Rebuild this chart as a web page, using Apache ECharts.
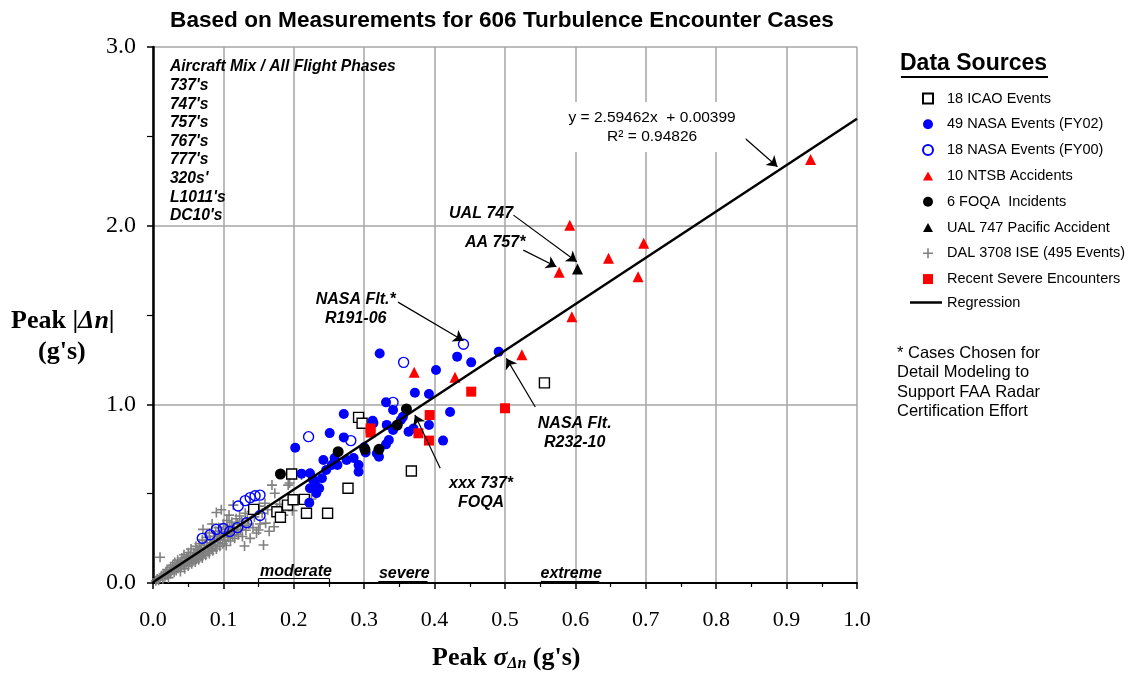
<!DOCTYPE html>
<html><head><meta charset="utf-8">
<script src="https://cdn.jsdelivr.net/npm/echarts@6/dist/echarts.min.js"></script>
<style>html,body{margin:0;padding:0;background:#fff}#c{width:1130px;height:674px}</style>
</head><body><div id="c"></div><script>
// ---------- data ----------
const xTicks = [0,0.1,0.2,0.3,0.4,0.5,0.6,0.7,0.8,0.9,1.0];
const yTicks = [0,1,2,3];
const icao = [[0.197,0.610],[0.143,0.412],[0.176,0.399],[0.181,0.368],[0.191,0.436],[0.199,0.466],[0.215,0.468],[0.218,0.390],[0.248,0.390],[0.277,0.530],[0.292,0.927],[0.297,0.894],[0.367,0.627],[0.556,1.120]];
const nasa02 = [[0.322,1.285],[0.432,1.267],[0.452,1.235],[0.491,1.294],[0.402,1.192],[0.372,1.065],[0.392,1.058],[0.331,1.011],[0.341,0.968],[0.422,0.957],[0.312,0.908],[0.271,0.946],[0.341,0.856],[0.352,0.912],[0.363,0.847],[0.392,0.884],[0.412,0.797],[0.331,0.776],[0.321,0.707],[0.292,0.660],[0.292,0.623],[0.271,0.815],[0.251,0.839],[0.202,0.757],[0.242,0.688],[0.262,0.660],[0.275,0.688],[0.246,0.632],[0.223,0.614],[0.211,0.612],[0.240,0.586],[0.230,0.558],[0.223,0.530],[0.232,0.502],[0.222,0.449],[0.302,0.731],[0.346,0.880],[0.254,0.660],[0.332,0.885],[0.355,0.930],[0.300,0.760],[0.318,0.725],[0.258,0.700],[0.227,0.580],[0.236,0.530],[0.370,0.865],[0.335,0.800],[0.285,0.700],[0.313,0.895]];
const nasa00 = [[0.441,1.336],[0.356,1.235],[0.341,1.011],[0.281,0.797],[0.221,0.819],[0.121,0.431],[0.131,0.461],[0.138,0.478],[0.145,0.488],[0.152,0.492],[0.152,0.378],[0.133,0.337],[0.090,0.300],[0.081,0.270],[0.109,0.288],[0.100,0.305],[0.120,0.310],[0.070,0.250]];
const ntsb = [[0.934,2.371],[0.592,2.003],[0.697,1.901],[0.647,1.817],[0.577,1.739],[0.689,1.714],[0.595,1.490],[0.371,1.179],[0.429,1.151],[0.524,1.278]];
const foqa = [[0.360,0.974],[0.347,0.884],[0.263,0.735],[0.301,0.748],[0.321,0.748],[0.181,0.610]];
const ual = [[0.603,1.757]];
const recent = [[0.452,1.071],[0.500,0.978],[0.393,0.940],[0.309,0.865],[0.309,0.842],[0.377,0.838],[0.392,0.797]];
const dal = [[0.004,0.012],[0.006,0.022],[0.008,0.015],[0.010,0.030],[0.010,0.144],[0.012,0.040],[0.014,0.024],[0.015,0.050],
[0.017,0.035],[0.018,0.060],[0.020,0.045],[0.020,0.075],[0.022,0.030],[0.023,0.065],[0.025,0.052],[0.025,0.088],
[0.027,0.072],[0.028,0.100],[0.030,0.060],[0.030,0.082],[0.031,0.115],[0.033,0.070],[0.034,0.095],[0.035,0.128],
[0.036,0.082],[0.038,0.108],[0.039,0.064],[0.040,0.092],[0.040,0.120],[0.041,0.140],[0.043,0.100],[0.044,0.158],
[0.045,0.080],[0.046,0.125],[0.047,0.110],[0.048,0.145],[0.050,0.095],[0.050,0.170],[0.051,0.130],[0.052,0.115],
[0.053,0.155],[0.054,0.190],[0.055,0.108],[0.056,0.140],[0.057,0.125],[0.058,0.170],[0.060,0.118],[0.060,0.152],
[0.061,0.205],[0.062,0.135],[0.063,0.185],[0.064,0.160],[0.065,0.130],[0.066,0.220],[0.067,0.172],[0.068,0.148],
[0.069,0.195],[0.070,0.140],[0.070,0.240],[0.071,0.300],[0.072,0.165],[0.073,0.210],[0.074,0.185],[0.075,0.155],
[0.076,0.255],[0.077,0.225],[0.078,0.175],[0.079,0.200],[0.080,0.165],[0.080,0.280],[0.081,0.240],[0.082,0.215],
[0.083,0.190],[0.084,0.330],[0.085,0.180],[0.086,0.262],[0.087,0.230],[0.088,0.205],[0.089,0.290],[0.090,0.395],
[0.090,0.190],[0.091,0.250],[0.092,0.225],[0.093,0.310],[0.094,0.270],[0.095,0.205],[0.096,0.240],[0.097,0.410],
[0.098,0.285],[0.099,0.220],[0.100,0.330],[0.100,0.260],[0.102,0.240],[0.103,0.300],[0.104,0.210],[0.105,0.350],
[0.106,0.275],[0.107,0.255],[0.108,0.380],[0.109,0.320],[0.110,0.235],[0.111,0.290],[0.112,0.340],[0.113,0.265],
[0.114,0.436],[0.115,0.310],[0.116,0.250],[0.118,0.360],[0.119,0.285],[0.120,0.330],[0.121,0.270],[0.123,0.375],
[0.124,0.300],[0.126,0.345],[0.127,0.260],[0.128,0.320],[0.130,0.207],[0.131,0.390],[0.132,0.295],[0.134,0.360],
[0.136,0.330],[0.138,0.250],[0.140,0.400],[0.142,0.310],[0.144,0.370],[0.147,0.280],[0.150,0.297],[0.151,0.430],
[0.152,0.330],[0.155,0.390],[0.157,0.213],[0.159,0.446],[0.160,0.335],[0.163,0.410],[0.165,0.290],[0.169,0.548],
[0.172,0.315],[0.173,0.502],[0.176,0.420],[0.180,0.440],[0.185,0.380],[0.192,0.548],[0.194,0.560],[0.198,0.405],
[0.205,0.470],[0.211,0.604],[0.225,0.470]];
const regSlope = 2.59462, regIntercept = 0.00399;
const regX = [0, 1.0];
const seriesNames = ['18 ICAO Events','49 NASA Events (FY02)','18 NASA Events (FY00)','10 NTSB Accidents','6 FOQA  Incidents','UAL 747 Pacific Accident','DAL 3708 ISE (495 Events)','Recent Severe Encounters','Regression'];
const aircraftList = ['Aircraft Mix / All Flight Phases',"737's","747's","757's","767's","777's","320s'","L1011's","DC10's"];
const notes = [
  {t:'UAL 747', c:[0.466,2.070]},
  {t:'AA 757*', c:[0.486,1.903]},
  {t:'NASA Flt.*\nR191-06', c:[0.288,1.533]},
  {t:'NASA Flt.\nR232-10', c:[0.599,0.837]},
  {t:'xxx 737*\nFOQA', c:[0.466,0.506]},
  {t:'moderate', c:[0.203,0.064]},
  {t:'severe', c:[0.357,0.052]},
  {t:'extreme', c:[0.594,0.052]}
];
const arrows = [
  [[0.817,2.572],[0.887,2.330]],
  [[0.512,2.059],[0.602,1.798]],
  [[0.526,1.863],[0.573,1.770]],
  [[0.348,1.572],[0.441,1.356]],
  [[0.543,0.985],[0.502,1.257]],
  [[0.408,0.642],[0.372,0.940]]
];
const brackets = [
  [[0.15,0.026],[0.25,0.026]],[[0.15,0],[0.15,0.026]],[[0.25,0],[0.25,0.026]],
  [[0.32,0.012],[0.39,0.012]],
  [[0.551,0.012],[0.634,0.012]],[[0.551,0],[0.551,0.012]]
];
const eqText = 'y = 2.59462x  + 0.00399\nR² = 0.94826';
const eqPos = [0.709, 2.552];

// ---------- chart ----------
const chart = echarts.init(document.getElementById('c'), null, {renderer:'canvas'});
const SANS = 'Liberation Sans, Arial, sans-serif';
const SERIF = 'Liberation Serif, Times New Roman, serif';
const plus = 'path://M4.2,0H5.8V4.2H10V5.8H5.8V10H4.2V5.8H0V4.2H4.2Z';
const sq = 'path://M0,0H10V10H0Z';
const tri = 'path://M5,0L10,9H0Z';
const noteStyle = {fontFamily:SANS, fontWeight:'bold', fontStyle:'italic', fontSize:16, color:'#000', lineHeight:19};
const legendText = {fontFamily:SANS, fontSize:14.5, color:'#000'};

const option = {
  animation:false,
  backgroundColor:'#fff',
  title:{text:'Based on Measurements for 606 Turbulence Encounter Cases', left:497, top:4, textAlign:'center',
    textStyle:{fontFamily:SANS, fontWeight:'bold', fontSize:22.6, color:'#000'}},
  grid:{left:153, right:273, top:47, bottom:91, containLabel:false},
  legend:[
    {orient:'vertical', left:917, top:86, itemWidth:10, itemHeight:10, itemGap:10.8, selectedMode:false,
      data:seriesNames.slice(0,8), textStyle:Object.assign({padding:[0,0,0,9]}, legendText)},
    {orient:'vertical', left:905, top:290, itemWidth:32, itemHeight:10, selectedMode:false,
      data:[{name:'Regression', icon:'path://M0,0H32V2.5H0Z'}], textStyle:legendText}
  ],
  xAxis:{type:'value', min:0, max:1, interval:0.1,
    axisLine:{lineStyle:{color:'#000', width:2}},
    axisTick:{length:6, lineStyle:{color:'#000', width:1.5}},
    minorTick:{show:true, splitNumber:2, length:4, lineStyle:{color:'#000', width:1.2}},
    splitLine:{show:true, lineStyle:{color:'#a6a6a6', width:1.5}},
    axisLabel:{margin:26, fontFamily:SERIF, fontSize:22, color:'#000', formatter:v=>v.toFixed(1)}},
  yAxis:{type:'value', min:0, max:3, interval:1,
    axisLine:{show:true, lineStyle:{color:'#000', width:2.5}},
    axisTick:{show:true, length:6, lineStyle:{color:'#000', width:1.5}},
    minorTick:{show:true, splitNumber:2, length:6, lineStyle:{color:'#000', width:1.2}},
    splitLine:{show:true, lineStyle:{color:'#a6a6a6', width:1.5}},
    axisLabel:{margin:17, fontFamily:SERIF, fontSize:24, color:'#000', formatter:v=>v.toFixed(1)}},
  graphic:[
    {type:'text', left:900, top:52, style:{text:'Data Sources', fontFamily:SANS, fontWeight:'bold', fontSize:23, fill:'#000'}},
    {type:'rect', left:901, top:76, shape:{width:147, height:2}, style:{fill:'#000'}},
    {type:'text', left:897, top:344, style:{text:'* Cases Chosen for\nDetail Modeling to\nSupport FAA Radar\nCertification Effort', fontFamily:SANS, fontSize:16.5, lineHeight:19.3, fill:'#000'}},
    {type:'text', left:11, top:308, style:{rich:{a:{fontFamily:SERIF, fontWeight:'bold', fontSize:26, fill:'#000'}, b:{fontFamily:SERIF, fontWeight:'bold', fontStyle:'italic', fontSize:26, fill:'#000'}}, text:'{a|Peak |}{b|Δn}{a||}'}},
    {type:'text', left:38, top:339, style:{text:"(g's)", fontFamily:SERIF, fontWeight:'bold', fontSize:26, fill:'#000'}},
    {type:'text', left:432, top:645, style:{rich:{a:{fontFamily:SERIF, fontWeight:'bold', fontSize:26, fill:'#000'}, s:{fontFamily:SERIF, fontWeight:'bold', fontStyle:'italic', fontSize:26, fill:'#000'}, d:{fontFamily:SERIF, fontWeight:'bold', fontStyle:'italic', fontSize:16, fill:'#000', padding:[11,0,0,0]}}, text:"{a|Peak }{s|σ}{d|Δn}{a| (g's)}"}}
  ],
  series:[
    {name:seriesNames[6], type:'scatter', data:dal, symbol:plus, symbolSize:10, z:1, itemStyle:{color:'#808080', opacity:1}},
    {name:seriesNames[0], type:'scatter', data:icao, symbol:sq, symbolSize:10, z:2, itemStyle:{color:'#fff', borderColor:'#000', borderWidth:1.4, opacity:1}},
    {name:seriesNames[2], type:'scatter', data:nasa00, symbol:'circle', symbolSize:10, z:2, itemStyle:{color:'rgba(255,255,255,0)', borderColor:'#0000ff', borderWidth:1.4, opacity:1}},
    {name:seriesNames[1], type:'scatter', data:nasa02, symbol:'circle', symbolSize:10, z:2, itemStyle:{color:'#0000ff', opacity:1}},
    {name:seriesNames[4], type:'scatter', data:foqa, symbol:'circle', symbolSize:11, z:2, itemStyle:{color:'#000', opacity:1}},
    {name:seriesNames[3], type:'scatter', data:ntsb, symbol:tri, symbolSize:11, z:2, itemStyle:{color:'#ff0000', opacity:1}},
    {name:seriesNames[5], type:'scatter', data:ual, symbol:tri, symbolSize:11, z:2, itemStyle:{color:'#000', opacity:1}},
    {name:seriesNames[7], type:'scatter', data:recent, symbol:sq, symbolSize:10, z:2, itemStyle:{color:'#ff0000', opacity:1}},
    {name:seriesNames[8], type:'line', data:regX.map(x=>[x, regSlope*x+regIntercept]), symbol:'none', z:3,
      lineStyle:{color:'#000', width:2.5}, itemStyle:{color:'#000'}},
    {name:'notes', type:'scatter', data:[], z:4, silent:true,
      markPoint:{silent:true, symbol:'circle', symbolSize:0, animation:false,
        data: notes.map(n=>({coord:n.c, label:Object.assign({show:true, position:'inside', formatter:n.t, align:'center'}, noteStyle)}))
          .concat([{coord:[0.024,2.94], label:Object.assign({show:true, position:[0,0], align:'left', verticalAlign:'top', formatter:aircraftList.join('\n')}, noteStyle, {fontSize:15.7, lineHeight:18.6})},
                   {coord:eqPos, label:{show:true, position:'inside', formatter:eqText, fontFamily:SANS, fontSize:15.5, lineHeight:19, color:'#000', backgroundColor:'#fff', padding:[6,10], align:'center'}}])}},
    {name:'arrows', type:'scatter', data:[], z:5, silent:true, itemStyle:{color:'#000'},
      markLine:{silent:true, animation:false, symbol:['none','arrow'], symbolSize:10, label:{show:false},
        lineStyle:{color:'#000', width:1.2, type:'solid', opacity:1}, itemStyle:{color:'#000'},
        data: arrows.map(a=>[{coord:a[0], symbol:'none'},{coord:a[1], symbol:'arrow', symbolSize:10}]).concat(brackets.map(b=>[{coord:b[0], symbol:'none'},{coord:b[1], symbol:'none'}]))}}
  ]
};
chart.setOption(option);
</script></body></html>
